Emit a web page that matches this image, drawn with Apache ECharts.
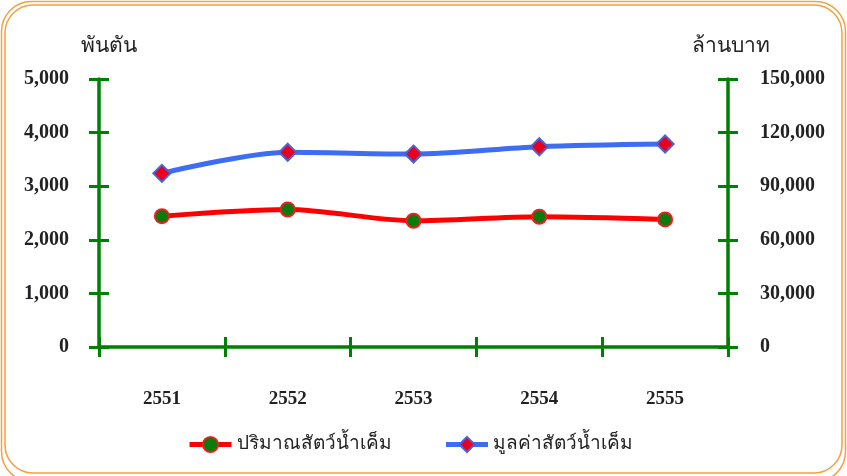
<!DOCTYPE html>
<html>
<head>
<meta charset="utf-8">
<script src="https://cdn.jsdelivr.net/npm/echarts@6/dist/echarts.min.js"></script>
<style>
  html, body { margin: 0; padding: 0; background: #ffffff; }
  #chart { width: 847px; height: 476px; }
</style>
</head>
<body>
<div id="chart"></div>
<script>
// Years (Buddhist era)
const years = ['2551', '2552', '2553', '2554', '2555'];
// Marine animal quantity, thousand tonnes (left axis)
const quantity = [2440, 2565, 2355, 2430, 2380];
// Marine animal value, million baht (right axis)
const value = [97200, 109000, 108000, 112100, 113600];
// Axis ranges
const leftMax = 5000, leftStep = 1000;
const rightMax = 150000, rightStep = 30000;

const GREEN = '#008000';
const FONT = '"Liberation Serif", "Times New Roman", serif';

const chart = echarts.init(document.getElementById('chart'));

const baseY = {
  type: 'value', min: 0, splitLine: { show: false }
};

chart.setOption({
  animation: false,
  backgroundColor: '#ffffff',
  grid: { left: 99, right: 119, top: 79, bottom: 129 },
  graphic: [
    { type: 'rect', shape: { x: 1.5, y: 1.5, width: 844, height: 480, r: 30 },
      style: { fill: 'none', stroke: '#f4a043', lineWidth: 1.5 } },
    { type: 'rect', shape: { x: 5, y: 5, width: 837, height: 468, r: 28 },
      style: { fill: 'none', stroke: '#f4a043', lineWidth: 1.5 } }
  ],
  legend: {
    bottom: 17, left: 182,
    itemWidth: 42, itemHeight: 19, itemGap: 52,
    textStyle: { fontFamily: FONT, fontSize: 19, color: '#222' },
    lineStyle: { width: 5 },
    data: ['ปริมาณสัตว์น้ำเค็ม', 'มูลค่าสัตว์น้ำเค็ม']
  },
  xAxis: [
    {
      type: 'category', data: years, boundaryGap: true,
      axisLine: { lineStyle: { color: GREEN, width: 3.5 } },
      axisTick: { show: true, length: 10, lineStyle: { color: GREEN, width: 3 } },
      axisLabel: { margin: 43, fontFamily: FONT, fontWeight: 'bold', fontSize: 19, color: '#222' }
    },
    {
      // inward half of the crossing ticks
      type: 'category', data: years, boundaryGap: true, position: 'bottom',
      axisLine: { show: false },
      axisTick: { show: true, inside: true, length: 10, lineStyle: { color: GREEN, width: 3 } },
      axisLabel: { show: false }
    }
  ],
  yAxis: [
    Object.assign({}, baseY, {
      max: leftMax, interval: leftStep, position: 'left',
      name: 'พันตัน', nameGap: 22,
      nameTextStyle: { fontFamily: FONT, fontSize: 21, color: '#222', align: 'center', padding: [0, 0, 0, 20] },
      axisLine: { show: true, lineStyle: { color: GREEN, width: 3.5 } },
      axisTick: { show: true, length: 10, lineStyle: { color: GREEN, width: 3 } },
      axisLabel: {
        margin: 30, fontFamily: FONT, fontWeight: 'bold', fontSize: 20, color: '#222',
        formatter: v => v.toLocaleString('en-US')
      }
    }),
    Object.assign({}, baseY, {
      max: rightMax, interval: rightStep, position: 'right',
      name: 'ล้านบาท', nameGap: 22,
      nameTextStyle: { fontFamily: FONT, fontSize: 21, color: '#222', align: 'center', padding: [0, 0, 0, 6] },
      axisLine: { show: true, lineStyle: { color: GREEN, width: 3.5 } },
      axisTick: { show: true, length: 10, lineStyle: { color: GREEN, width: 3 } },
      axisLabel: {
        margin: 32, fontFamily: FONT, fontWeight: 'bold', fontSize: 20, color: '#222',
        formatter: v => v.toLocaleString('en-US')
      }
    }),
    Object.assign({}, baseY, {
      max: leftMax, interval: leftStep, position: 'left',
      axisLine: { show: false }, axisLabel: { show: false },
      axisTick: { show: true, inside: true, length: 10, lineStyle: { color: GREEN, width: 3 } }
    }),
    Object.assign({}, baseY, {
      max: rightMax, interval: rightStep, position: 'right',
      axisLine: { show: false }, axisLabel: { show: false },
      axisTick: { show: true, inside: true, length: 10, lineStyle: { color: GREEN, width: 3 } }
    })
  ],
  series: [
    {
      name: 'ปริมาณสัตว์น้ำเค็ม', type: 'line', yAxisIndex: 0, data: quantity,
      smooth: 0.3, z: 3,
      lineStyle: { color: '#ff0000', width: 5 },
      symbol: 'circle', symbolSize: 14,
      itemStyle: { color: '#0d7a0d', borderColor: '#e82020', borderWidth: 2 }
    },
    {
      name: 'มูลค่าสัตว์น้ำเค็ม', type: 'line', yAxisIndex: 1, data: value,
      smooth: 0.3, z: 3,
      lineStyle: { color: '#3d6cf5', width: 5 },
      symbol: 'diamond', symbolSize: 17,
      itemStyle: { color: '#e8001c', borderColor: '#4a62d8', borderWidth: 2 }
    }
  ]
});
</script>
</body>
</html>
